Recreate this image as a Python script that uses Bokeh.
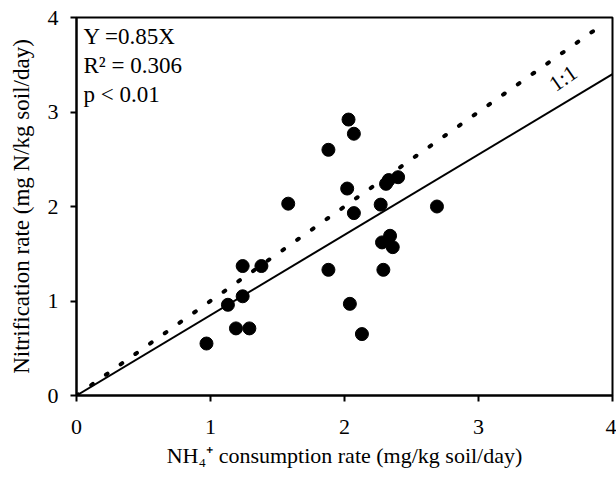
from bokeh.plotting import figure
from bokeh.models import Range1d, FixedTicker, Label
from bokeh.embed import file_html
from bokeh.resources import INLINE
from bokeh.core.properties import value

# Data
consumption = [0.97, 1.13, 1.19, 1.24, 1.24, 1.29, 1.38, 1.58, 1.88, 1.88,
               2.03, 2.07, 2.02, 2.07, 2.04, 2.13, 2.27, 2.28, 2.29, 2.31,
               2.33, 2.40, 2.34, 2.36, 2.69]
nitrification = [0.55, 0.96, 0.71, 1.05, 1.37, 0.71, 1.37, 2.03, 2.60, 1.33,
                 2.92, 2.77, 2.19, 1.93, 0.97, 0.65, 2.02, 1.62, 1.33, 2.24,
                 2.28, 2.31, 1.69, 1.57, 2.00]
fit_slope = 0.85
fit_x = [0, 4]
one_to_one_x = [0, 3.95]
ticks = [0, 1, 2, 3, 4]
stats_lines = ["Y =0.85X", "R\u00b2 = 0.306", "p < 0.01"]

FONT = "Liberation Serif"
W, H = 616, 478
BL, BR, BT, BB = 76, 4, 17, 83
FRAME_H = H - BT - BB

p = figure(width=W, height=H, output_backend="svg", toolbar_location=None,
           x_range=Range1d(0, 4), y_range=Range1d(0, 4),
           min_border_left=BL, min_border_right=BR, min_border_top=BT,
           min_border_bottom=BB)
p.background_fill_color = "white"
p.border_fill_color = "white"
p.xgrid.visible = False
p.ygrid.visible = False
p.outline_line_color = "black"
p.outline_line_width = 2

for ax in (p.xaxis[0], p.yaxis[0]):
    ax.ticker = FixedTicker(ticks=ticks)
    ax.minor_tick_line_color = None
    ax.major_tick_in = 0
    ax.major_tick_out = 6
    ax.major_tick_line_width = 2
    ax.axis_line_width = 2
    ax.major_label_text_font = FONT
    ax.major_label_text_font_size = "22px"
    ax.major_label_text_color = "black"
    ax.axis_label_text_font = FONT
    ax.axis_label_text_font_style = "normal"
    ax.axis_label_text_color = "black"

p.xaxis[0].axis_label = "NH\u2084\u207a consumption rate (mg/kg soil/day)"
p.yaxis[0].axis_label = "Nitrification rate (mg N/kg soil/day)"
p.xaxis[0].axis_label_text_font_size = "22px"
p.yaxis[0].axis_label_text_font_size = "23px"
p.xaxis[0].major_label_standoff = 18
p.yaxis[0].major_label_standoff = 12
p.xaxis[0].axis_label_standoff = 6
p.yaxis[0].axis_label_standoff = 11

# regression line
p.line(fit_x, [fit_slope * v for v in fit_x], line_color="black", line_width=2)
# 1:1 line
p.line(one_to_one_x, one_to_one_x, line_color="black", line_width=4,
       line_dash="2 16", line_cap="round")

p.scatter(consumption, nitrification, size=13, marker="circle",
          fill_color="black", line_color="black")

for i, t in enumerate(stats_lines):
    p.add_layout(Label(x=7, y=FRAME_H - 6 - 29 * i, x_units="screen",
                       y_units="screen", text=t, text_font=FONT,
                       text_font_size="23px", text_color="black",
                       text_baseline="top"))

p.text(x=[3.63], y=[3.36], text=["1:1"], angle=0.61,
       text_font=value(FONT), text_font_size="22px", text_align="center",
       text_baseline="middle", text_color="black")

open("out.html", "w").write(file_html(p, INLINE))
